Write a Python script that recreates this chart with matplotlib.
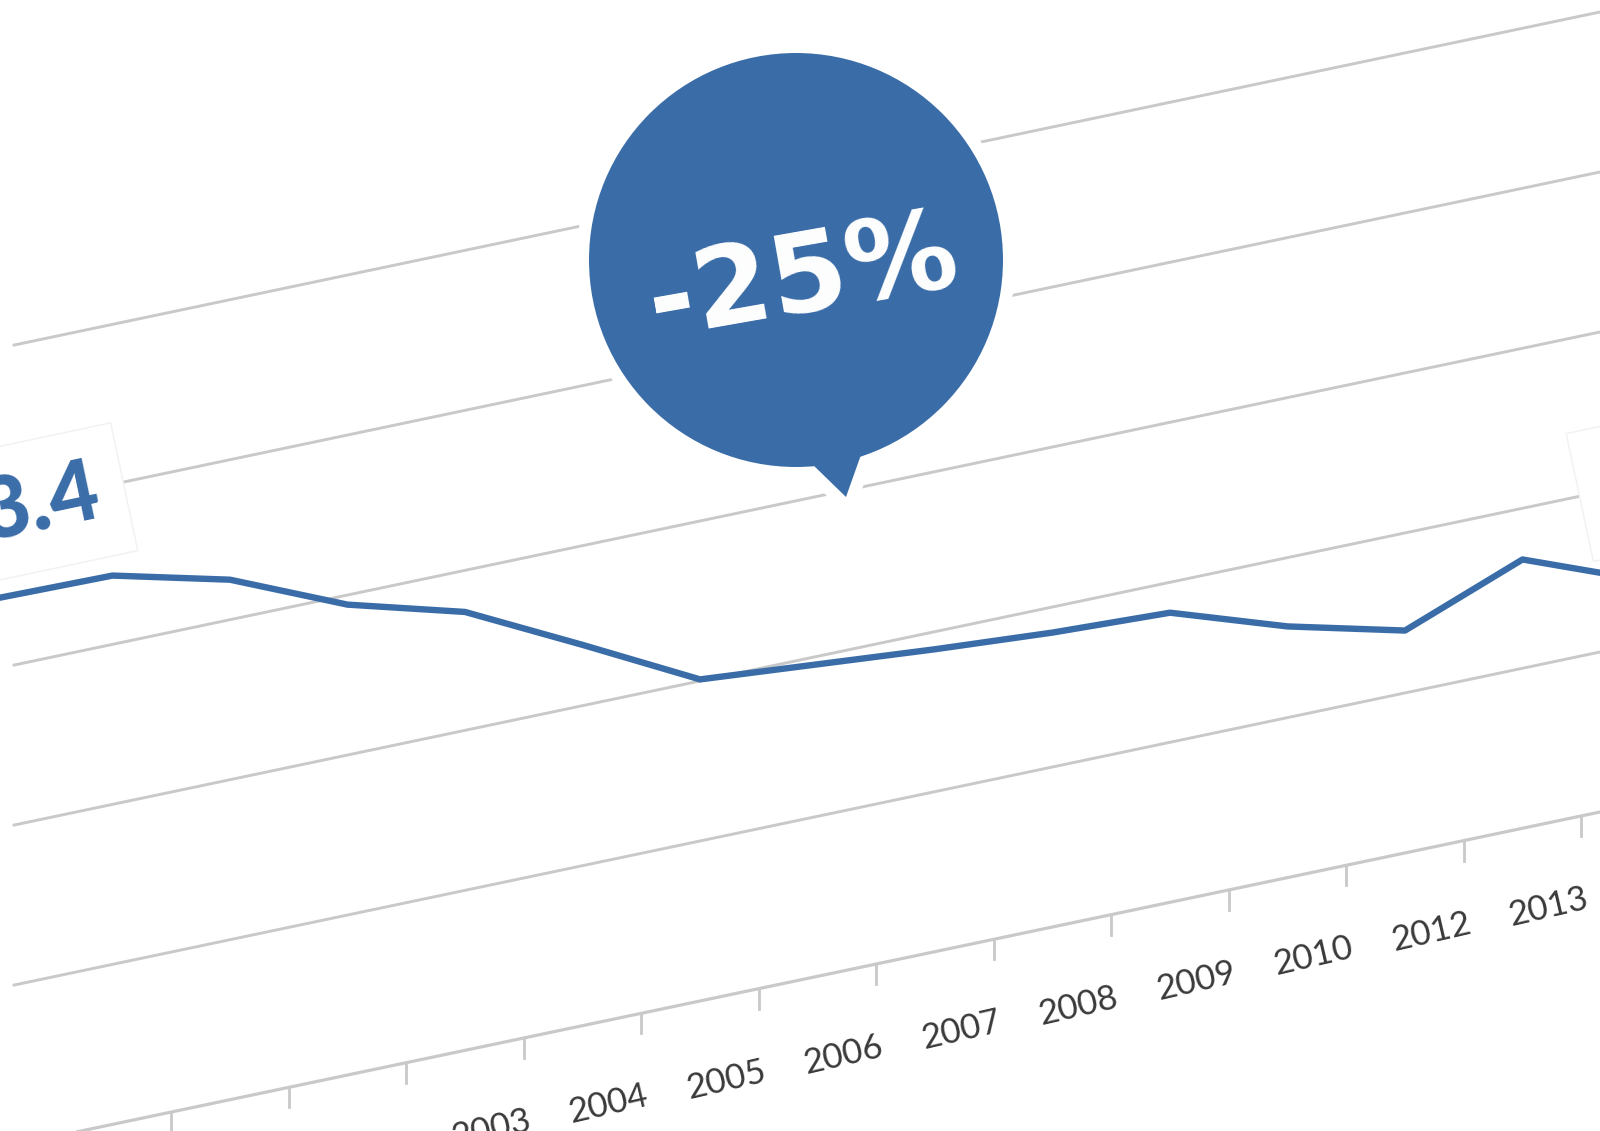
import matplotlib.pyplot as plt
from matplotlib.transforms import Affine2D
from matplotlib.patches import Circle, Polygon

# data (value of one gridline step = 1)
years = ['1999', '2000', '2001', '2002', '2003', '2004', '2005', '2006',
         '2007', '2008', '2009', '2010', '2012', '2013', '2014']
values = [3.44, 3.43, 3.25, 2.94, 2.74, 2.38, 2.01, 1.95,
          1.89, 1.84, 1.81, 1.57, 1.39, 1.68, 1.40]
grid_levels = [1, 2, 3, 4, 5]
change_label = '-25%'

blue = '#3a6da8'
grey = '#c9c9c9'

fig = plt.figure(figsize=(16, 11.31), dpi=100)
ax = fig.add_axes([0, 0, 1, 1])
ax.set_xlim(0, 1600)
ax.set_ylim(1131, 0)
ax.axis('off')

# the chart is seen tilted: category index / value -> pixel position
plane = Affine2D.from_values(117.5, -24.675, 0, -160, -5, 1149.05) + ax.transData

#%% gridlines, axis and ticks
for lv in grid_levels:
    ax.plot([0.15, 16], [lv, lv], transform=plane, color=grey, lw=2.1,
            solid_capstyle='butt', zorder=1)
ax.plot([0.15, 16], [0, 0], transform=plane, color=grey, lw=2.3,
        solid_capstyle='butt', zorder=1)
for k in range(len(years) + 1):
    ax.plot([k - 0.5, k - 0.5], [0, -0.125], transform=plane, color=grey,
            lw=2, zorder=1)

for i, yr in enumerate(years):
    ax.annotate(yr, xy=(i, 0), xycoords=plane, xytext=(26, -79),
                textcoords='offset pixels', rotation=13, ha='center',
                va='center', fontsize=25, color='#3a3a3a', family='Lato')

#%% data line
ax.plot(range(len(years)), values, transform=plane, color=blue, lw=4.6,
        solid_joinstyle='round', zorder=3)

# value labels at both ends
for idx, off in [(0, (45, 94)), (len(values) - 1, (24, 100))]:
    ax.annotate(f'{values[idx]:.1f}', xy=(idx, values[idx]), xycoords=plane,
                xytext=off, textcoords='offset pixels', rotation=12,
                ha='center', va='center', fontsize=62, fontweight='black',
                color=blue, family='Lato', zorder=2,
                bbox=dict(boxstyle='square,pad=0.3', fc='white',
                          ec='#f1f1f1', lw=1))

#%% speech bubble
center = (796, 260)
tail = [(810, 462), (846, 497), (862, 452)]
ax.add_patch(Circle(center, 207, fc='white', ec='white', lw=18, zorder=4))
ax.add_patch(Polygon(tail, closed=True, fc='white', ec='white', lw=18, zorder=4))
ax.add_patch(Circle(center, 207, fc=blue, ec='none', zorder=5))
ax.add_patch(Polygon(tail, closed=True, fc=blue, ec='none', zorder=5))
ax.text(803, 280, change_label, rotation=10, ha='center', va='center',
        fontsize=80, fontweight='bold', color='white', zorder=6)

fig.savefig('out.png', dpi=100)
